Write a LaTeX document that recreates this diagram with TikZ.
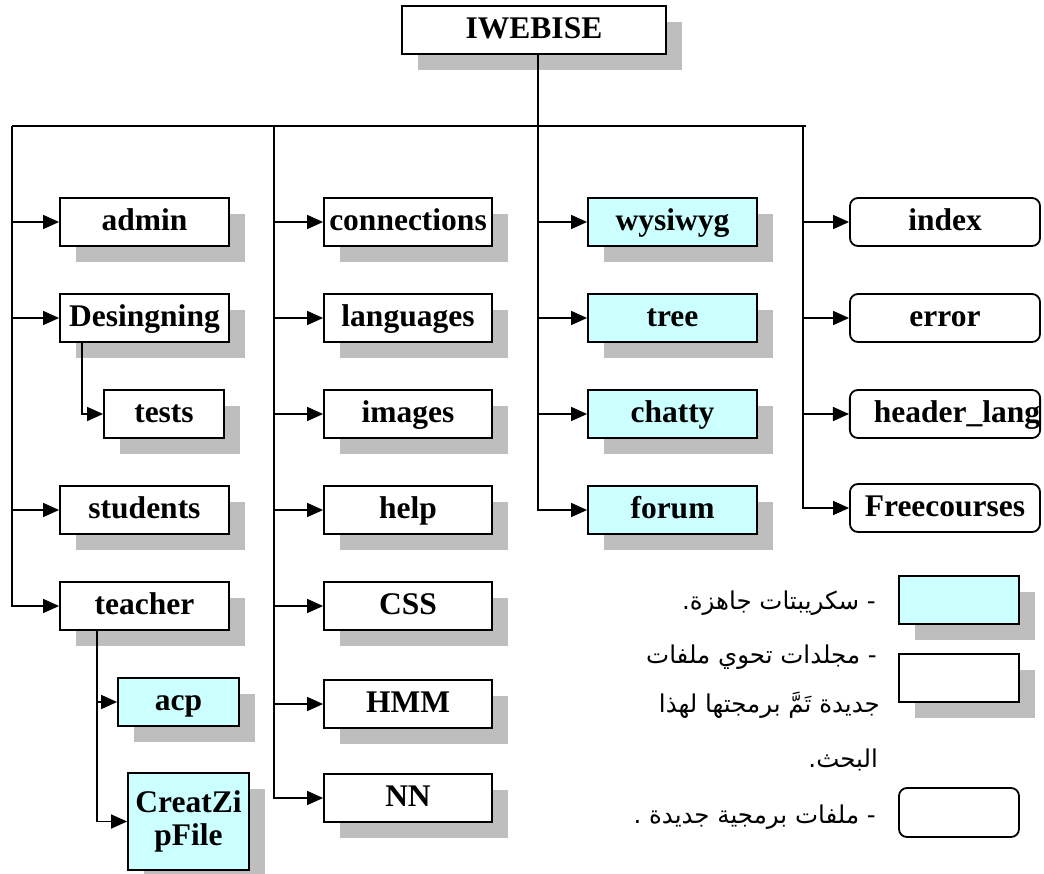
\documentclass[tikz,border=0pt]{standalone}
\usepackage{fontspec}
\setmainfont{Liberation Serif}
\newfontfamily\arabicfont[Script=Arabic]{DejaVu Sans}
\TeXXeTstate=1
\usetikzlibrary{arrows.meta,shadows}
\definecolor{shadowgray}{RGB}{190,190,190}
\definecolor{scriptcyan}{RGB}{204,255,255}
\tikzset{
  boxshadow/.style={drop shadow={shadow xshift=16pt,shadow yshift=-16pt,fill=shadowgray,opacity=1}},
  fbox/.style={rectangle,draw,line width=1.8pt,fill=white,inner sep=0pt,
    text height=22pt,text depth=6pt,
    minimum height=48pt,font=\fontsize{31.5}{33}\selectfont\bfseries,boxshadow},
  sbox/.style={fbox,fill=scriptcyan},
  rbox/.style={rectangle,draw,line width=1.8pt,fill=white,rounded corners=8pt,inner sep=0pt,
    text height=22pt,text depth=6pt,
    minimum height=48pt,minimum width=190pt,font=\fontsize{31.5}{33}\selectfont\bfseries},
  conn/.style={line width=1.5pt},
  arr/.style={conn,-{Triangle[length=16pt,width=14pt]}},
  legtext/.style={anchor=east,inner sep=0pt,font=\arabicfont\fontsize{24.5}{27}\selectfont}
}
\begin{document}
\begin{tikzpicture}[x=1pt,y=-1pt]
\useasboundingbox (0,0) rectangle (1044,873);

% root
\node[fbox,minimum width=264pt] (root) at (534,30) {IWEBISE};

% column 1
\node[fbox,minimum width=169pt] (admin) at (144.5,222) {admin};
\node[fbox,minimum width=169pt] (desing) at (144.5,318) {Desingning};
\node[fbox,minimum width=120pt] (tests) at (164,414) {tests};
\node[fbox,minimum width=169pt] (students) at (144.5,510) {students};
\node[fbox,minimum width=169pt] (teacher) at (144.5,606) {teacher};
\node[sbox,minimum width=121pt] (acp) at (178.5,702) {acp};
\node[sbox,minimum width=121pt,minimum height=97pt,align=center,
      text height=,text depth=,
      font=\fontsize{31.5}{33}\selectfont\bfseries] (czf) at (188.5,821.5) {CreatZi\\pFile};

% column 2
\node[fbox,minimum width=168pt] (connections) at (408,222) {connections};
\node[fbox,minimum width=168pt] (languages) at (408,318) {languages};
\node[fbox,minimum width=168pt] (images) at (408,414) {images};
\node[fbox,minimum width=168pt] (help) at (408,510) {help};
\node[fbox,minimum width=168pt] (css) at (408,606) {CSS};
\node[fbox,minimum width=168pt] (hmm) at (408,704) {HMM};
\node[fbox,minimum width=168pt] (nn) at (408,798) {NN};

% column 3
\node[sbox,minimum width=169pt] (wysiwyg) at (672.5,222) {wysiwyg};
\node[sbox,minimum width=169pt] (tree) at (672.5,318) {tree};
\node[sbox,minimum width=169pt] (chatty) at (672.5,414) {chatty};
\node[sbox,minimum width=169pt] (forum) at (672.5,510) {forum};

% column 4
\node[rbox] (index) at (945,222) {index};
\node[rbox] (error) at (945,318) {error};
\node[rbox] (header) at (945,414) {\hspace*{24pt}header\_lang};
\node[rbox] (free) at (945,508) {Freecourses};

% legend
\node[sbox,minimum width=120pt] (lg1) at (959,600) {};
\node[fbox,minimum width=120pt] (lg2) at (959,678) {};
\node[rbox,minimum width=120pt,minimum height=49pt] (lg3) at (959,812.5) {};
\node[legtext] (t1) at (876,603) {\beginR - سكريبتات جاهزة.\endR};
\node[legtext] (t2) at (877,657) {\beginR - مجلدات تحوي ملفات\endR};
\node[legtext] (t3) at (880,705) {\beginR جديدة تَمَّ برمجتها لهذا\endR};
\node[legtext] (t4) at (878,760) {\beginR البحث.\endR};
\node[legtext] (t5) at (876,817) {\beginR - ملفات برمجية جديدة .\endR};

% connectors
\coordinate (c1) at (12,126);
\coordinate (c2) at (274,126);
\coordinate (c4) at (803,126);
\coordinate (hR) at (806,126);
\draw[conn] (c1) -- (hR);
\draw[arr] ([xshift=4pt]root.south) |- (forum.west);
\draw[arr] ([xshift=4pt]root.south |- wysiwyg.west) -- (wysiwyg.west);
\draw[arr] ([xshift=4pt]root.south |- tree.west) -- (tree.west);
\draw[arr] ([xshift=4pt]root.south |- chatty.west) -- (chatty.west);

\draw[arr] (c1) |- (teacher.west);
\draw[arr] (c1 |- admin.west) -- (admin.west);
\draw[arr] (c1 |- desing.west) -- (desing.west);
\draw[arr] (c1 |- students.west) -- (students.west);
\draw[arr] ([xshift=-62.5pt]desing.south) |- (tests.west);
\draw[arr] ([xshift=-47.5pt]teacher.south) |- (czf.west);
\draw[arr] ([xshift=-47.5pt]teacher.south |- acp.west) -- (acp.west);

\draw[arr] (c2) |- (nn.west);
\draw[arr] (c2 |- connections.west) -- (connections.west);
\draw[arr] (c2 |- languages.west) -- (languages.west);
\draw[arr] (c2 |- images.west) -- (images.west);
\draw[arr] (c2 |- help.west) -- (help.west);
\draw[arr] (c2 |- css.west) -- (css.west);
\draw[arr] (c2 |- hmm.west) -- (hmm.west);

\draw[arr] (c4) |- (free.west);
\draw[arr] (c4 |- index.west) -- (index.west);
\draw[arr] (c4 |- error.west) -- (error.west);
\draw[arr] (c4 |- header.west) -- (header.west);
\end{tikzpicture}
\end{document}
